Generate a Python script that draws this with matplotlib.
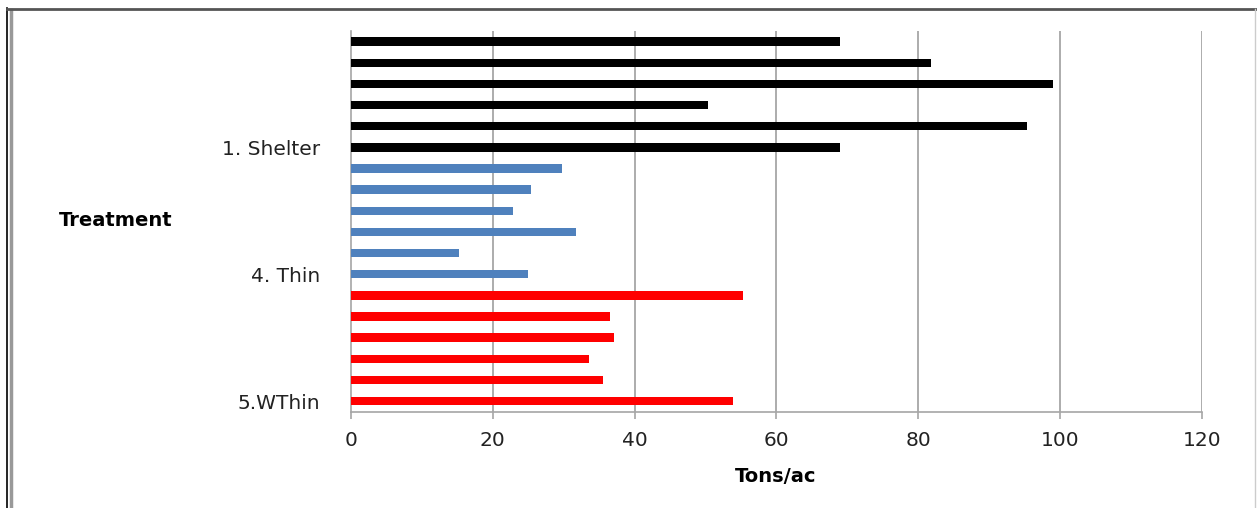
import numpy as np
import matplotlib.pyplot as plt
from matplotlib.lines import Line2D

# bars listed bottom to top
labels = ['5.WThin', '', '', '', '', '',
          '4. Thin', '', '', '', '', '',
          '1. Shelter', '', '', '', '', '']
red_vals = [53.9, 35.6, 33.6, 37.1, 36.5, 55.3]
blue_vals = [25.0, 15.2, 31.8, 22.8, 25.4, 29.8]
black_vals = [69.0, 95.4, 50.4, 99.0, 81.8, 69.0]

values = red_vals + blue_vals + black_vals
colors = ['#ff0000'] * 6 + ['#4f81bd'] * 6 + ['#000000'] * 6
y = np.arange(len(values))

fig = plt.figure(figsize=(12.57, 5.08), dpi=100)
ax = fig.add_axes([0.2792, 0.1898, 0.677, 0.749])

ax.barh(y, values, height=0.4, color=colors, zorder=3)
ax.set_xlim(0, 120)
ax.set_ylim(-0.5, 17.5)
ax.set_xticks(np.arange(0, 121, 20))
ax.set_yticks(y)
ax.set_yticklabels(labels)

for xv in range(20, 121, 20):
    ax.axvline(xv, color='#a6a6a6', lw=1.3, zorder=1)

for s in ['top', 'right']:
    ax.spines[s].set_visible(False)
ax.spines['left'].set_color('#a6a6a6')
ax.spines['bottom'].set_color('#a6a6a6')
ax.spines['left'].set_linewidth(1.2)
ax.spines['bottom'].set_linewidth(1.2)

ax.tick_params(axis='y', length=0, pad=22, labelsize=14.5, labelcolor='#222222')
ax.tick_params(axis='x', length=5, width=1.2, color='#a6a6a6', pad=9,
               labelsize=14.5, labelcolor='#222222')

fig.text(116 / 1257, 1 - 221 / 508, 'Treatment', fontsize=14, fontweight='bold',
         ha='center', va='center')
fig.text(776 / 1257, 1 - 476 / 508, 'Tons/ac', fontsize=14, fontweight='bold',
         ha='center', va='center')

# frame around the chart
fig.add_artist(Line2D([7 / 1257, 7 / 1257], [0, 1 - 8 / 508], color='black', lw=1.2))
fig.add_artist(Line2D([11 / 1257, 11 / 1257], [0, 1 - 10 / 508], color='#999999', lw=2.5))
fig.add_artist(Line2D([7 / 1257, 1], [1 - 9 / 508, 1 - 9 / 508], color='#555555', lw=2))
fig.add_artist(Line2D([1255 / 1257, 1255 / 1257], [0, 1 - 9 / 508], color='#cccccc', lw=1))

fig.savefig('out.png', dpi=100)
